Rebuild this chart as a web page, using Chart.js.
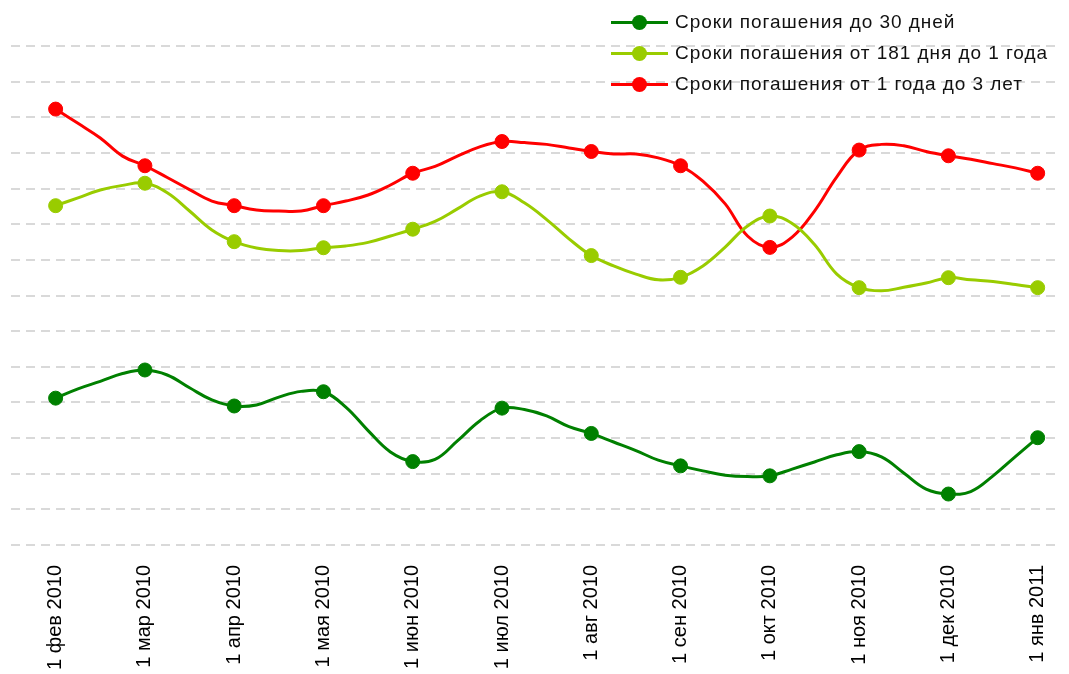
<!DOCTYPE html>
<html>
<head>
<meta charset="utf-8">
<script src="https://cdn.jsdelivr.net/npm/chart.js@4"></script>
<style>
  body { margin: 0; background: #fff; }
  #wrap { position: relative; width: 1069px; height: 674px; }
  #legend { position: absolute; left: 611px; top: 9px; font-family: "Liberation Sans", Arial, sans-serif; font-size: 19px; letter-spacing: 0.95px; color: #111; }
  .item { position: relative; height: 31px; padding-left: 64px; line-height: 26px; white-space: nowrap; }
  .item .ln { position: absolute; left: 0; top: 12px; width: 57px; height: 3px; }
  .item .dot { position: absolute; left: 21px; top: 6px; width: 15px; height: 15px; border-radius: 50%; }
</style>
</head>
<body>
<div id="wrap">
  <canvas id="myChart" width="1069" height="674"></canvas>
  <div id="legend"></div>
</div>
<script>
// месяцы (метки оси), точки данных идут по неделям: 4 точки на месяц
const months = ['1 фев 2010', '1 мар 2010', '1 апр 2010', '1 мая 2010', '1 июн 2010', '1 июл 2010',
  '1 авг 2010', '1 сен 2010', '1 окт 2010', '1 ноя 2010', '1 дек 2010', '1 янв 2011'];

const seriesNames = ['Сроки погашения до 30 дней', 'Сроки погашения от 181 дня до 1 года', 'Сроки погашения от 1 года до 3 лет'];
const colors = ['#008000', '#99cc00', '#ff0000'];

const do30 = [4.12, 4.38, 4.59, 4.81, 4.91, 4.77, 4.41, 4.07, 3.90, 3.93, 4.15, 4.31, 4.30, 3.87, 3.21, 2.61,
  2.34, 2.40, 2.92, 3.48, 3.84, 3.80, 3.62, 3.32, 3.13, 2.89, 2.65, 2.38, 2.22, 2.08, 1.96, 1.92,
  1.94, 2.13, 2.33, 2.53, 2.62, 2.47, 2.02, 1.57, 1.43, 1.50, 1.94, 2.48, 3.01];

const ot181 = [9.52, 9.74, 9.96, 10.09, 10.15, 9.88, 9.37, 8.84, 8.51, 8.33, 8.26, 8.26, 8.34, 8.39, 8.49, 8.67,
  8.86, 9.08, 9.43, 9.79, 9.91, 9.60, 9.13, 8.59, 8.12, 7.83, 7.60, 7.44, 7.51, 7.83, 8.36, 8.95,
  9.23, 9.02, 8.43, 7.60, 7.22, 7.13, 7.23, 7.35, 7.50, 7.44, 7.39, 7.31, 7.22];

const ot1do3 = [12.23, 11.83, 11.42, 10.91, 10.64, 10.31, 9.97, 9.65, 9.52, 9.40, 9.37, 9.37, 9.52, 9.65, 9.82, 10.10,
  10.43, 10.62, 10.91, 11.17, 11.32, 11.29, 11.24, 11.14, 11.04, 10.97, 10.97, 10.86, 10.64, 10.21, 9.57, 8.67,
  8.35, 8.64, 9.37, 10.33, 11.08, 11.24, 11.20, 11.04, 10.92, 10.82, 10.70, 10.58, 10.43];

const allSeries = [do30, ot181, ot1do3];

function makeDataset(values, k) {
  return {
    label: seriesNames[k],
    data: values.map((v, i) => ({ x: i, y: v })),
    borderColor: colors[k],
    backgroundColor: colors[k],
    borderWidth: 3,
    tension: 0.4,
    pointRadius: values.map((v, i) => i % 4 === 0 ? 7 : 0),
    pointHoverRadius: 7,
    pointBorderWidth: 1
  };
}

// легенда
const legend = document.getElementById('legend');
seriesNames.forEach((name, k) => {
  const item = document.createElement('div');
  item.className = 'item';
  item.innerHTML = '<span class="ln" style="background:' + colors[k] + '"></span>' +
    '<span class="dot" style="background:' + colors[k] + '"></span>' + name;
  legend.appendChild(item);
});

const ctx = document.getElementById('myChart');

const myChart = new Chart(ctx, {
  type: 'line',
  data: {
    datasets: allSeries.map(makeDataset)
  },
  options: {
    responsive: false,
    animation: false,
    layout: { padding: { top: 46, left: 11, right: 9, bottom: 0 } },
    plugins: { legend: { display: false }, tooltip: { enabled: false } },
    scales: {
      x: {
        type: 'linear',
        min: -2,
        max: 45,
        grid: { display: false, drawTicks: false },
        border: { display: false },
        afterBuildTicks: (scale) => { scale.ticks = months.map((m, i) => ({ value: i * 4 })); },
        afterFit: (scale) => {
          scale.height = 129;
          scale.paddingLeft = 0;
          scale.paddingRight = 0;
        },
        ticks: {
          minRotation: 90,
          maxRotation: 90,
          padding: 20,
          color: '#000',
          font: { family: 'Liberation Sans', size: 20 },
          callback: (v) => months[v / 4]
        }
      },
      y: {
        min: 0,
        max: 14,
        afterFit: (scale) => { scale.width = 0; },
        ticks: { display: false, stepSize: 1 },
        border: { display: false, dash: [9, 6] },
        grid: { color: '#d9d9d9', lineWidth: 2, drawTicks: false }
      }
    }
  }
});
</script>
</body>
</html>
